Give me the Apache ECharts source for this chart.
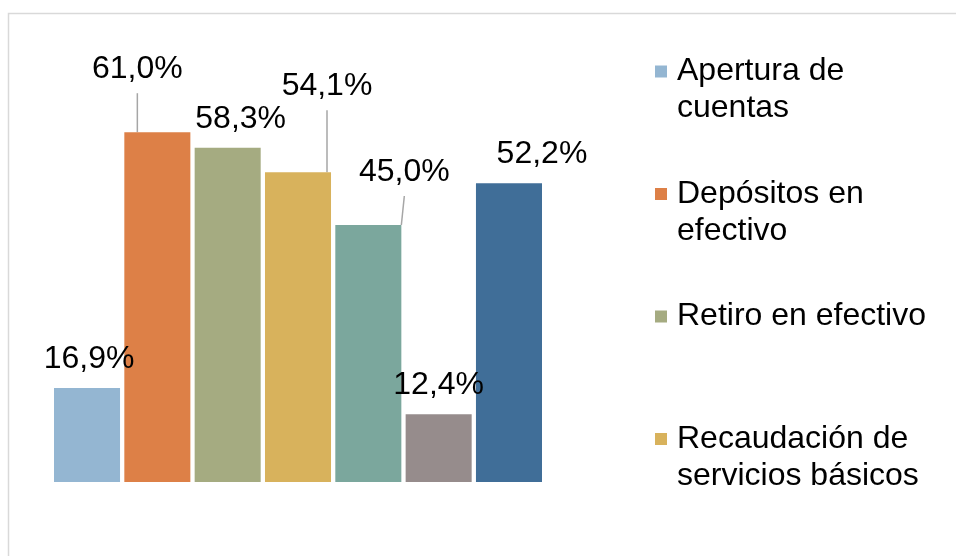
<!DOCTYPE html>
<html><head><meta charset="utf-8">
<script src="https://cdn.jsdelivr.net/npm/echarts@6/dist/echarts.min.js"></script>
<style>html,body{margin:0;padding:0;background:#fff}#c{width:956px;height:556px}</style>
</head><body><div id="c"></div>
<script>
const categories = [''];
const seriesNames = ['Apertura de cuentas', 'Depósitos en efectivo', 'Retiro en efectivo', 'Recaudación de servicios básicos', 'Serie 5', 'Serie 6', 'Serie 7'];
const values = [16.9, 61.0, 58.3, 54.1, 45.0, 12.4, 52.2];
const colors = ['#94B6D2', '#DD8047', '#A5AB81', '#D8B25C', '#7BA79D', '#968C8C', '#406E98'];
const legendNames = ['Apertura de cuentas', 'Depósitos en efectivo', 'Retiro en efectivo', 'Recaudación de servicios básicos'];
const legendLines = [['Apertura de', 'cuentas'], ['Depósitos en', 'efectivo'], ['Retiro en efectivo'], ['Recaudación de', 'servicios básicos']];

// label displacement (layout only)
const labelShift = [[2, 0], [-20, -34], [13, 0], [29, -57], [36, -24], [0, 0], [33, 0]];
const withLeader = [false, true, false, true, true, false, false];

const FONT = "'Liberation Sans', Arial, sans-serif";
const chart = echarts.init(document.getElementById('c'), null, {renderer: 'canvas'});

const series = seriesNames.map((name, i) => ({
  name: name,
  type: 'bar',
  data: [values[i]],
  barCategoryGap: '0%',
  barGap: '6.5%',
  itemStyle: {color: colors[i]},
  label: {
    show: true,
    position: 'top',
    distance: 5,
    padding: [0, 0, 6, 0],
    color: '#000',
    fontFamily: FONT,
    fontSize: 32,
    lineHeight: 36,
    formatter: p => p.value.toFixed(1).replace('.', ',') + '%'
  },
  labelLayout: function () { return {dx: labelShift[i][0], dy: labelShift[i][1]}; },
  labelLine: {show: withLeader[i], lineStyle: {color: '#A6A6A6', width: 1.5}},
  emphasis: {disabled: true}
}));

// first text line aligned with the legend square: pad with a blank line above
// (and one below for single-line entries so every entry has the same height)
function legendText(name) {
  const lines = legendLines[legendNames.indexOf(name)];
  return lines.length === 1 ? '\n' + lines[0] + '\n' : '\n' + lines.join('\n');
}

chart.setOption({
  animation: false,
  backgroundColor: '#fff',
  graphic: [{
    type: 'rect', silent: true,
    shape: {x: 8.5, y: 13.5, width: 1000, height: 700},
    style: {fill: 'none', stroke: '#D9D9D9', lineWidth: 1.5}
  }],
  grid: {left: 54, right: 414, top: 80, bottom: 74},
  xAxis: {type: 'category', data: categories, show: false},
  yAxis: {type: 'value', min: 0.7, max: 70, show: false, splitLine: {show: false}},
  legend: {
    orient: 'vertical',
    left: 655,
    top: 16,
    padding: 0,
    itemWidth: 12,
    itemHeight: 12,
    itemGap: 11.5,
    icon: 'rect',
    selectedMode: false,
    data: legendNames,
    formatter: legendText,
    textStyle: {color: '#000', fontFamily: FONT, fontSize: 32, lineHeight: 37, padding: [0, 0, 0, 5]}
  },
  series: series
});
</script>
</body></html>
